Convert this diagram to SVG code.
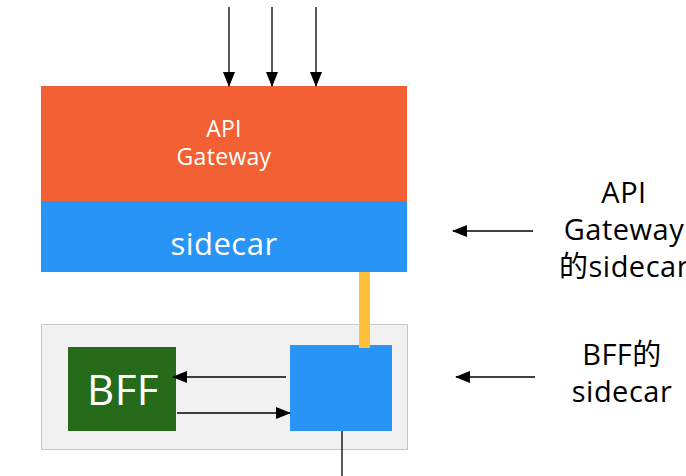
<svg xmlns="http://www.w3.org/2000/svg" width="686" height="476" viewBox="0 0 686 476">
<defs>
<marker id="ah2" markerWidth="15" markerHeight="15" refX="14" refY="7.5" orient="auto" markerUnits="userSpaceOnUse" viewBox="0 0 15 15">
<path d="M0,1.5 L15,7.5 L0,13.5 Z" fill="#000"/>
</marker>
</defs>
<style>
text{font-family:"Open Sans","Noto Sans CJK SC",sans-serif;text-anchor:middle}
.w{fill:#fff}
.k{fill:#000}
.c{stroke:#000;stroke-width:1.3;fill:none}
</style>
<rect width="686" height="476" fill="#fff"/>
<g id="container">
<rect x="41.5" y="324.5" width="366" height="125" fill="#f1f1f1" stroke="#c6c6c6" stroke-width="1"/>
</g>
<g id="gateway">
<rect x="41" y="86" width="366" height="115" fill="#f26033"/>
<text class="w" x="224" y="137" font-size="23" letter-spacing="0.3">API</text>
<text class="w" x="224" y="165" font-size="23" letter-spacing="0.3">Gateway</text>
</g>
<g id="gateway-sidecar">
<rect x="41" y="201" width="366" height="71" fill="#2894f5"/>
<text class="w" x="224" y="255" font-size="31" letter-spacing="0.5">sidecar</text>
</g>
<g id="bff">
<rect x="68" y="347" width="108" height="84" fill="#266b1a"/>
<text class="w" x="123" y="405" font-size="42" letter-spacing="0.5">BFF</text>
</g>
<g id="bff-sidecar">
<rect x="290" y="345" width="102" height="86" fill="#2894f5"/>
</g>
<g id="connectors">
<rect x="359" y="272" width="11" height="76" fill="#ffc03a"/>
<line class="c" x1="229" y1="7" x2="229" y2="86" marker-end="url(#ah2)"/>
<line class="c" x1="272" y1="7" x2="272" y2="86" marker-end="url(#ah2)"/>
<line class="c" x1="316" y1="7" x2="316" y2="86" marker-end="url(#ah2)"/>
<line class="c" x1="286" y1="377" x2="173" y2="377" marker-end="url(#ah2)"/>
<line class="c" x1="177" y1="413" x2="290" y2="413" marker-end="url(#ah2)"/>
<line class="c" x1="342" y1="431" x2="342" y2="476"/>
<line class="c" x1="533" y1="231" x2="453" y2="231" marker-end="url(#ah2)"/>
<line class="c" x1="535" y1="377" x2="456" y2="377" marker-end="url(#ah2)"/>
</g>
<g id="label-gateway-sidecar">
<text class="k" x="624" y="203" font-size="29" letter-spacing="0.5">API</text>
<text class="k" x="624" y="240" font-size="29" letter-spacing="0.5">Gateway</text>
<text class="k" x="624" y="277" font-size="29" letter-spacing="0.5">的sidecar</text>
</g>
<g id="label-bff-sidecar">
<text class="k" x="622" y="365" font-size="29" letter-spacing="0.5">BFF的</text>
<text class="k" x="622" y="402" font-size="29" letter-spacing="0.5">sidecar</text>
</g>
</svg>
